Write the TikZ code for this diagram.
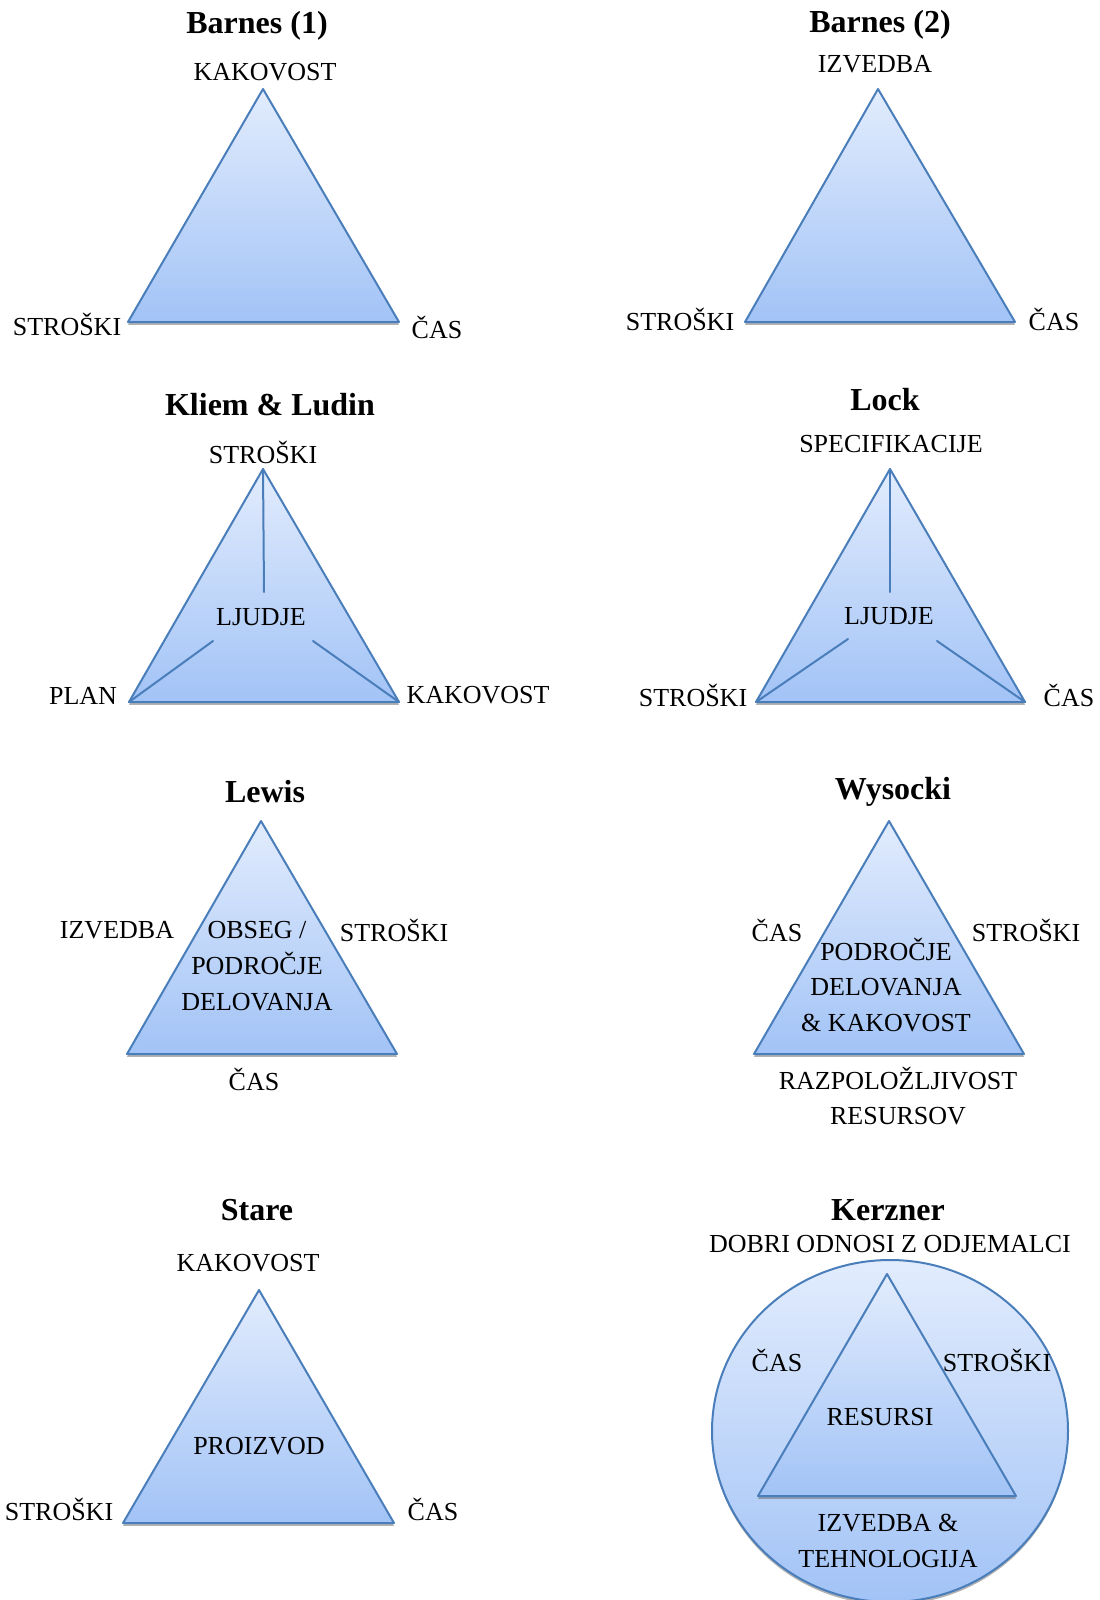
\documentclass[tikz,border=0pt]{standalone}
\usepackage{fontspec}
\setmainfont{Liberation Serif}
\usetikzlibrary{shadows}
\definecolor{triblue}{RGB}{74,126,187}
\definecolor{tritop}{RGB}{226,236,253}
\definecolor{tribot}{RGB}{162,195,246}
\begin{document}
\begin{tikzpicture}[x=0.5pt,y=-0.5pt,line join=round,line cap=round,
  tri/.style={draw=triblue,line width=1pt,top color=tritop,bottom color=tribot,
    drop shadow={shadow xshift=0pt,shadow yshift=-1.4pt,fill=black!60,opacity=0.5}},
  spoke/.style={draw=triblue,line width=1pt},
  lbl/.style={font=\fontsize{13}{17.8}\selectfont,inner sep=0pt,align=center},
  ttl/.style={font=\fontsize{16}{18}\selectfont\bfseries,inner sep=0pt}]
  \useasboundingbox (0,0) rectangle (1099,1600);

  % Barnes (1)
  \coordinate (b1t) at (263,89);
  \coordinate (b1l) at (128,322);
  \coordinate (b1r) at (399,322);
  \path[tri] (b1t) -- (b1l) -- (b1r) -- cycle;
  \node[ttl] (b1title) at (257,26) {Barnes (1)};
  \node[lbl] (b1top) at (265,72) {KAKOVOST};
  \node[lbl] (b1left) at (67,324) {STROŠKI};
  \node[lbl] (b1right) at (437,327) {ČAS};

  % Barnes (2)
  \coordinate (b2t) at (878,89);
  \coordinate (b2l) at (745,322);
  \coordinate (b2r) at (1015,322);
  \path[tri] (b2t) -- (b2l) -- (b2r) -- cycle;
  \node[ttl] (b2title) at (880,25) {Barnes (2)};
  \node[lbl] (b2top) at (875,64) {IZVEDBA};
  \node[lbl] (b2left) at (680,319) {STROŠKI};
  \node[lbl] (b2right) at (1054,319) {ČAS};

  % Kliem & Ludin
  \coordinate (klt) at (263,469);
  \coordinate (kll) at (129,702);
  \coordinate (klr) at (399,702);
  \path[tri] (klt) -- (kll) -- (klr) -- cycle;
  \coordinate (klv) at (264,592);
  \coordinate (kla) at (213,641);
  \coordinate (klb) at (313,641);
  \draw[spoke] (klt) -- (klv);
  \draw[spoke] (kll) -- (kla);
  \draw[spoke] (klr) -- (klb);
  \node[ttl] (kltitle) at (270,405) {Kliem \& Ludin};
  \node[lbl] (kltop) at (263,452) {STROŠKI};
  \node[lbl] (klmid) at (261,617) {LJUDJE};
  \node[lbl] (klleft) at (83,696) {PLAN};
  \node[lbl] (klright) at (478,695) {KAKOVOST};

  % Lock
  \coordinate (lkt) at (890,469);
  \coordinate (lkl) at (756,702);
  \coordinate (lkr) at (1025,702);
  \path[tri] (lkt) -- (lkl) -- (lkr) -- cycle;
  \coordinate (lkv) at (890,592);
  \coordinate (lka) at (848,639);
  \coordinate (lkb) at (937,641);
  \draw[spoke] (lkt) -- (lkv);
  \draw[spoke] (lkl) -- (lka);
  \draw[spoke] (lkr) -- (lkb);
  \node[ttl] (lktitle) at (885,400) {Lock};
  \node[lbl] (lktop) at (891,444) {SPECIFIKACIJE};
  \node[lbl] (lkmid) at (889,616) {LJUDJE};
  \node[lbl] (lkleft) at (693,695) {STROŠKI};
  \node[lbl] (lkright) at (1069,695) {ČAS};

  % Lewis
  \coordinate (lwt) at (261,821);
  \coordinate (lwl) at (127,1054);
  \coordinate (lwr) at (397,1054);
  \path[tri] (lwt) -- (lwl) -- (lwr) -- cycle;
  \node[ttl] (lwtitle) at (265,792) {Lewis};
  \node[lbl] (lwleft) at (117,930) {IZVEDBA};
  \node[lbl] (lwright) at (394,930) {STROŠKI};
  \node[lbl] (lwmid) at (257,966) {OBSEG /\\PODROČJE\\DELOVANJA};
  \node[lbl] (lwbot) at (254,1079) {ČAS};

  % Wysocki
  \coordinate (wyt) at (889,821);
  \coordinate (wyl) at (754,1054);
  \coordinate (wyr) at (1024,1054);
  \path[tri] (wyt) -- (wyl) -- (wyr) -- cycle;
  \node[ttl] (wytitle) at (893,792) {Wysocki};
  \node[lbl] (wyleft) at (777,930) {ČAS};
  \node[lbl] (wyright) at (1026,930) {STROŠKI};
  \node[lbl] (wymid) at (886,985) {PODROČJE\\DELOVANJA\\\& KAKOVOST};
  \node[lbl] (wybot) at (898,1096) {RAZPOLOŽLJIVOST\\RESURSOV};

  % Stare
  \coordinate (stt) at (259,1290);
  \coordinate (stl) at (123,1523);
  \coordinate (str) at (394,1523);
  \path[tri] (stt) -- (stl) -- (str) -- cycle;
  \node[ttl] (sttitle) at (257,1210) {Stare};
  \node[lbl] (sttop) at (248,1263) {KAKOVOST};
  \node[lbl] (stmid) at (259,1446) {PROIZVOD};
  \node[lbl] (stleft) at (59,1509) {STROŠKI};
  \node[lbl] (stright) at (433,1509) {ČAS};

  % Kerzner
  \path[tri] (890,1431) ellipse [x radius=178,y radius=171];
  \coordinate (kzt) at (887,1274);
  \coordinate (kzl) at (758,1496);
  \coordinate (kzr) at (1016,1496);
  \path[tri] (kzt) -- (kzl) -- (kzr) -- cycle;
  \node[ttl] (kztitle) at (888,1210) {Kerzner};
  \node[lbl] (kztop) at (890,1244) {DOBRI ODNOSI Z ODJEMALCI};
  \node[lbl] (kzleft) at (777,1360) {ČAS};
  \node[lbl] (kzright) at (997,1360) {STROŠKI};
  \node[lbl] (kzmid) at (880,1417) {RESURSI};
  \node[lbl] (kzbot) at (888,1541) {IZVEDBA \&\\TEHNOLOGIJA};
\end{tikzpicture}
\end{document}
